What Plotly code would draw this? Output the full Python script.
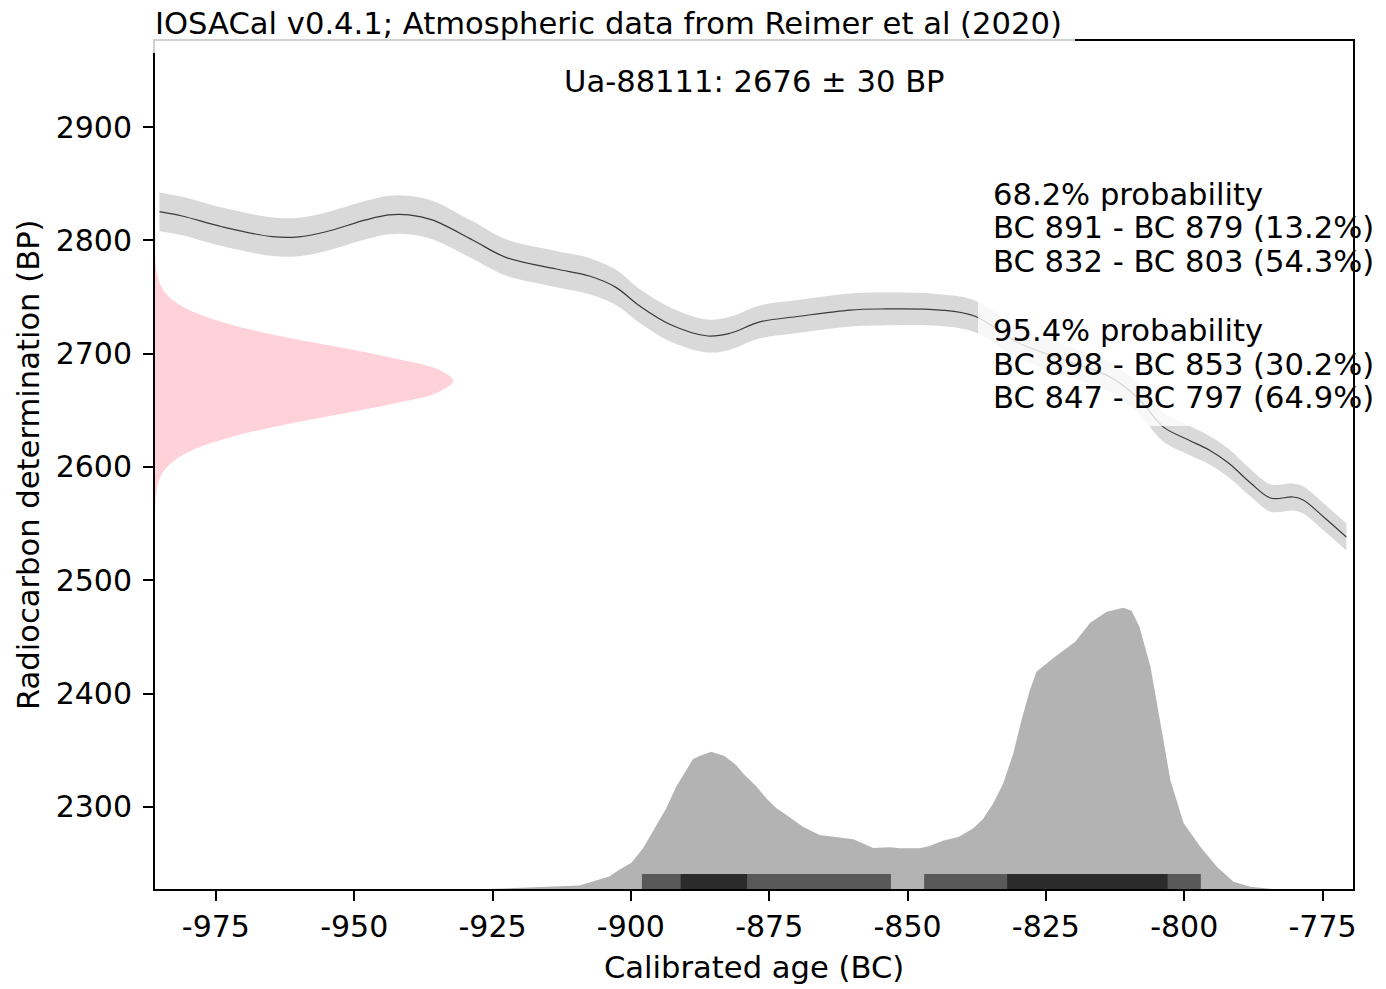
import plotly.graph_objects as go

# ---------------- data ----------------
# calibration curve (IntCal20 segment): calendar year (negative = BC), mean BP, 1-sigma
calib_x = [-985.2, -981.1, -973.9, -964.8, -960.0, -955.1, -947.9, -943.7, -940.1, -935.9,
           -928.6, -922.6, -913.5, -907.5, -902.7, -898.4, -893.0, -886.1, -882.1, -876.7,
           -869.5, -860.4, -855.0, -844.1, -837.8, -829.9, -820.8, -813.6, -808.2, -803.8,
           -799.2, -795.5, -792.0, -788.0, -784.4, -780.3, -778.5, -774.8, -770.7]
calib_bp = [2825.3, 2821.5, 2812.0, 2803.2, 2803.0, 2807.6, 2818.0, 2822.4, 2822.4, 2818.0,
            2800.3, 2785.0, 2774.7, 2768.5, 2758.5, 2742.0, 2726.0, 2715.6, 2718.0, 2728.0,
            2733.0, 2738.5, 2739.4, 2738.5, 2733.0, 2709.4, 2693.0, 2680.0, 2660.0, 2635.4,
            2623.8, 2615.0, 2603.5, 2585.9, 2572.6, 2573.5, 2570.9, 2555.9, 2538.2]
calib_sigma = [17, 17, 17, 17, 17, 17, 17, 17, 17, 17,
               16.5, 16, 16, 16, 15.5, 15, 15, 14.5, 14.5, 14.5,
               14.5, 14.5, 14.5, 14, 14, 13.5, 13.5, 13, 13, 13,
               13, 12.5, 12.5, 12, 12, 12, 12, 12, 12]

# radiocarbon determination (relative density vs BP)
det_bp = [2786, 2776, 2766, 2756, 2746, 2736, 2726, 2716, 2706, 2696, 2686, 2676,
          2666, 2656, 2646, 2636, 2626, 2616, 2606, 2596, 2586, 2576, 2566]
det_rel = [0.001, 0.004, 0.011, 0.028, 0.066, 0.135, 0.25, 0.41, 0.61, 0.80, 0.95, 1.0,
           0.95, 0.80, 0.61, 0.41, 0.25, 0.135, 0.066, 0.028, 0.011, 0.004, 0.001]

# calibrated date distribution (relative density vs calendar year)
cal_x = [-925.6, -914.7, -909.3, -905.7, -903.9, -902.1, -899.9, -897.8, -896.0, -893.6,
         -891.8, -888.8, -887.6, -885.5, -883.1, -881.0, -879.7, -877.3, -875.5, -873.7,
         -871.9, -868.9, -865.9, -863.5, -859.8, -857.4, -856.2, -853.2, -851.4, -847.8,
         -846.0, -843.5, -840.8, -838.1, -836.3, -834.5, -832.7, -830.9, -829.4, -827.9,
         -826.7, -823.7, -819.7, -817.0, -814.0, -811.0, -809.5, -808.1, -806.1, -804.3,
         -802.5, -800.1, -797.1, -794.1, -791.1, -788.0, -784.0]
cal_rel = [0.0, 0.007, 0.012, 0.034, 0.044, 0.068, 0.093, 0.145, 0.204, 0.287,
           0.364, 0.461, 0.473, 0.488, 0.473, 0.441, 0.411, 0.364, 0.322, 0.287,
           0.263, 0.221, 0.192, 0.186, 0.177, 0.156, 0.146, 0.148, 0.145, 0.145,
           0.153, 0.172, 0.185, 0.216, 0.251, 0.305, 0.376, 0.482, 0.601, 0.707,
           0.772, 0.820, 0.879, 0.947, 0.986, 1.0, 0.989, 0.932, 0.790, 0.589,
           0.387, 0.234, 0.150, 0.079, 0.026, 0.008, 0.0]

# highest density ranges
hpd95 = [(-898, -853), (-847, -797)]
hpd68 = [(-891, -879), (-832, -803)]

x_ticks = [-975, -950, -925, -900, -875, -850, -825, -800, -775]
x_tick_labels = ["-975", "-950", "-925", "-900", "-875", "-850", "-825", "-800", "-775"]
y_ticks = [2300, 2400, 2500, 2600, 2700, 2800, 2900]

title_text = "IOSACal v0.4.1; Atmospheric data from Reimer et al (2020)"
sample_text = "Ua-88111: 2676 ± 30 BP"
prob_lines = ["68.2% probability", "BC 891 - BC 879 (13.2%)", "BC 832 - BC 803 (54.3%)",
              "95.4% probability", "BC 898 - BC 853 (30.2%)", "BC 847 - BC 797 (64.9%)"]

# ---------------- layout constants ----------------
X_RANGE = [-986.0, -769.5]
Y_RANGE = [2227.6, 2975.9]
BASE = Y_RANGE[0]
CAL_PEAK_BP = 248.2      # height of calibrated-density peak in BP units
DET_PEAK_YR = 53.9       # width of determination peak in years
BAR_H = 13.2
FONT = "DejaVu Sans"
FS_TICK = 30
FS_TEXT = 30.6

fig = go.Figure()

# calibration band
upper = [m + s for m, s in zip(calib_bp, calib_sigma)]
lower = [m - s for m, s in zip(calib_bp, calib_sigma)]
fig.add_trace(go.Scatter(x=calib_x, y=lower, mode="lines", line=dict(width=0, shape="spline"),
                         hoverinfo="skip", showlegend=False))
fig.add_trace(go.Scatter(x=calib_x, y=upper, mode="lines", line=dict(width=0, shape="spline"),
                         fill="tonexty", fillcolor="#d9d9d9", hoverinfo="skip", showlegend=False))
fig.add_trace(go.Scatter(x=calib_x, y=calib_bp, mode="lines",
                         line=dict(color="#3a3a3a", width=1.2, shape="spline"), showlegend=False))

# radiocarbon determination (pink)
fig.add_trace(go.Scatter(x=[X_RANGE[0]] * len(det_bp), y=det_bp, mode="lines",
                         line=dict(width=0), hoverinfo="skip", showlegend=False))
fig.add_trace(go.Scatter(x=[X_RANGE[0] + r * DET_PEAK_YR for r in det_rel], y=det_bp,
                         mode="lines", line=dict(width=0, shape="spline"),
                         fill="tonextx", fillcolor="#ffd1d8", showlegend=False))

# calibrated distribution
fig.add_trace(go.Scatter(x=cal_x, y=[BASE] * len(cal_x), mode="lines", line=dict(width=0),
                         hoverinfo="skip", showlegend=False))
fig.add_trace(go.Scatter(x=cal_x, y=[BASE + r * CAL_PEAK_BP for r in cal_rel], mode="lines",
                         line=dict(width=0), fill="tonexty", fillcolor="#b3b3b3",
                         showlegend=False))

# HPD bars
for a, b in hpd95:
    fig.add_shape(type="rect", xref="x", yref="y", x0=a, x1=b, y0=BASE, y1=BASE + BAR_H,
                  fillcolor="#595959", line=dict(width=0), layer="above")
for a, b in hpd68:
    fig.add_shape(type="rect", xref="x", yref="y", x0=a, x1=b, y0=BASE, y1=BASE + BAR_H,
                  fillcolor="#2b2b2b", line=dict(width=0), layer="above")

# page offset (browser body margin) compensation
OFF = 8
W, H = 1386 - OFF, 989 - OFF
PL, PR, PT, PB = 155, 1353, 41, 889          # plot area in screen pixels
L, R, T, B = PL - OFF, 1386 - PR, PT - OFF, 989 - PB
PW, PH = PR - PL, PB - PT


def px(xp):
    return (xp - PL) / PW


def py(yp):
    return (PB - yp) / PH


# semi-transparent boxes (title and probability text)
fig.add_shape(type="rect", xref="paper", yref="paper", x0=px(153), x1=px(1075), y0=py(53), y1=py(-10),
              fillcolor="rgba(255,255,255,0.82)", line=dict(width=0), layer="above")
fig.add_shape(type="rect", xref="paper", yref="paper", x0=px(978), x1=px(1352), y0=py(426), y1=py(166),
              fillcolor="rgba(255,255,255,0.8)", line=dict(width=0), layer="above")

fig.add_annotation(text=title_text, xref="paper", yref="paper", x=px(153), y=py(23),
                   xanchor="left", yanchor="middle", showarrow=False,
                   font=dict(family=FONT, size=FS_TEXT, color="black"))
fig.add_annotation(text=sample_text, xref="paper", yref="paper", x=0.5, y=py(81),
                   xanchor="center", yanchor="middle", showarrow=False,
                   font=dict(family=FONT, size=FS_TEXT, color="black"))
line_y = [194, 227.5, 261, 331, 364, 397.5]
for t, yy in zip(prob_lines, line_y):
    fig.add_annotation(text=t, xref="paper", yref="paper", x=px(991), y=py(yy),
                       xanchor="left", yanchor="middle", showarrow=False,
                       font=dict(family=FONT, size=FS_TEXT, color="black"))

# axis titles
fig.add_annotation(text="Calibrated age (BC)", xref="paper", yref="paper", x=0.5, y=py(967),
                   xanchor="center", yanchor="middle", showarrow=False,
                   font=dict(family=FONT, size=FS_TEXT, color="black"))
fig.add_annotation(text="Radiocarbon determination (BP)", xref="paper", yref="paper", x=px(28),
                   y=0.5, xanchor="center", yanchor="middle", textangle=-90, showarrow=False,
                   font=dict(family=FONT, size=FS_TEXT, color="black"))

axis_common = dict(showgrid=False, zeroline=False, showline=True, linecolor="black", linewidth=2,
                   mirror=True, ticks="outside", ticklen=10, tickwidth=2, tickcolor="black",
                   tickfont=dict(family=FONT, size=FS_TICK, color="black"))
fig.update_xaxes(range=X_RANGE, tickvals=x_ticks, ticktext=x_tick_labels, **axis_common)
fig.update_yaxes(range=Y_RANGE, tickvals=y_ticks, ticktext=[str(v) for v in y_ticks],
                 ticklabelstandoff=5, **axis_common)

fig.update_layout(width=W, height=H, margin=dict(l=L, r=R, t=T, b=B, autoexpand=False),
                  paper_bgcolor="white", plot_bgcolor="white", showlegend=False,
                  font=dict(family=FONT, size=FS_TICK, color="black"))

fig.write_html("out.html")
